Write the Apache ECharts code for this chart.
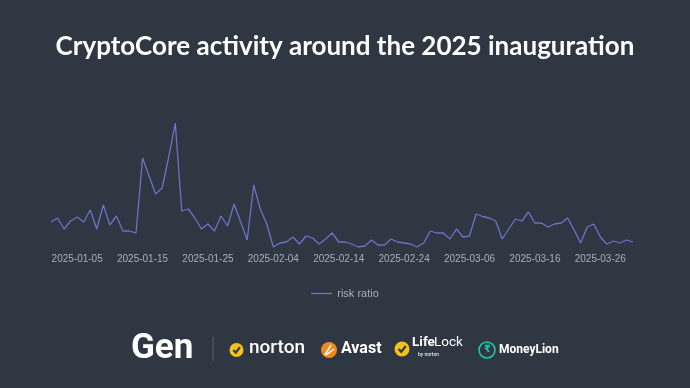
<!DOCTYPE html>
<html><head><meta charset="utf-8">
<script src="https://cdn.jsdelivr.net/npm/echarts@6/dist/echarts.min.js"></script>
<style>html,body{margin:0;padding:0;background:#2f3742;}#c{width:690px;height:388px;}</style>
</head><body><div id="c"></div>
<script>
const startDate = '2025-01-01';
const dayCount = 90;
const riskRatio = [0.30,0.34,0.23,0.31,0.35,0.30,0.42,0.23,0.47,0.27,
0.36,0.21,0.21,0.19,0.94,0.76,0.58,0.64,0.95,1.29,
0.41,0.43,0.34,0.23,0.28,0.21,0.36,0.26,0.48,0.30,
0.12,0.67,0.43,0.28,0.05,0.09,0.10,0.15,0.08,0.16,
0.14,0.08,0.13,0.19,0.10,0.10,0.08,0.05,0.06,0.12,
0.07,0.07,0.13,0.10,0.09,0.08,0.05,0.09,0.21,0.19,
0.19,0.13,0.23,0.15,0.16,0.38,0.355,0.34,0.31,0.13,
0.23,0.33,0.31,0.40,0.29,0.29,0.25,0.28,0.29,0.34,
0.22,0.09,0.25,0.28,0.15,0.08,0.11,0.09,0.12,0.10];
const dates = [];
(function(){const d=new Date(startDate+'T00:00:00Z');for(let i=0;i<dayCount;i++){const t=new Date(d.getTime()+i*86400000);dates.push(t.toISOString().slice(0,10));}})();
const titleText = 'CryptoCore activity around the 2025 inauguration';
const seriesName = 'risk ratio';

const chart = echarts.init(document.getElementById('c'));
const check = (cx, cy, r) => ({
  type:'polyline', shape:{points:[[cx-r*0.45,cy+r*0.0],[cx-r*0.1,cy+r*0.38],[cx+r*0.5,cy-r*0.4]]},
  style:{stroke:'#2f3742', lineWidth:2.2, fill:null}
});
chart.setOption({
  backgroundColor:'#2f3742',
  animation:false,
  title:{text:titleText,left:'center',top:29,textStyle:{color:'#ffffff',fontFamily:'Lato',fontWeight:'bold',fontSize:26}},
  legend:{data:[{name:seriesName,icon:'rect'}],top:283,left:'center',itemWidth:21,itemHeight:1.4,itemGap:10,textStyle:{color:'#aab0b8',fontSize:11,fontFamily:'Liberation Sans'}},
  grid:{left:51,right:57,top:112,bottom:136},
  xAxis:{type:'category',data:dates,boundaryGap:false,
    axisLine:{show:false},axisTick:{show:false},
    axisLabel:{color:'#a9afb7',fontSize:10,fontFamily:'Liberation Sans',margin:2,
      interval:(i)=> i%10===4}},
  yAxis:{type:'value',min:0,max:1.4,show:false,splitLine:{show:false}},
  series:[{name:seriesName,type:'line',data:riskRatio,symbol:'none',lineStyle:{color:'#6a73c6',width:1.3},itemStyle:{color:'#6a73c6'}}],
  graphic:[
    {type:'text',left:131,top:332,style:{text:'Gen',fill:'#ffffff',font:'bold 35px Roboto'}},
    {type:'rect',shape:{x:212.5,y:337,width:1,height:24},style:{fill:'#5a626d'}},
    {type:'circle',shape:{cx:236.5,cy:350,r:7},style:{fill:'#f2c318'}},
    check(236.5,350,7),
    {type:'text',left:249,top:339,style:{text:'norton',fill:'#ffffff',font:'500 19px Roboto'}},
    {type:'circle',shape:{cx:329,cy:350,r:8},style:{fill:'#f08a1c'}},
    {type:'polyline',shape:{points:[[325,355],[331,345]]},style:{stroke:'#ffffff',lineWidth:1.5}},
    {type:'polyline',shape:{points:[[326,355],[334,349]]},style:{stroke:'#ffffff',lineWidth:1.5}},
    {type:'text',left:341,top:341,style:{text:'Avast',fill:'#ffffff',font:'bold 16px Roboto'}},
    {type:'circle',shape:{cx:402,cy:349,r:7.5},style:{fill:'#f2c318'}},
    check(402,349,7.5),
    {type:'text',left:412,top:336,style:{text:'Life',fill:'#ffffff',font:'bold 13.5px Roboto'}},
    {type:'text',left:434,top:336,style:{text:'Lock',fill:'#ffffff',font:'13.5px Roboto'}},
    {type:'text',left:418,top:352,style:{text:'by norton',fill:'#ffffff',font:'5px Roboto'}},
    {type:'circle',shape:{cx:487,cy:350,r:8},style:{fill:'none',stroke:'#1fc5a5',lineWidth:1.6}},
    {type:'text',left:484,top:344,style:{text:'₹',fill:'#1fc5a5',font:'bold 10px DejaVu Sans'}},
    {type:'text',left:499,top:344,style:{text:'MoneyLion',fill:'#ffffff',font:'bold 12px Roboto'}}
  ]
});
</script></body></html>
